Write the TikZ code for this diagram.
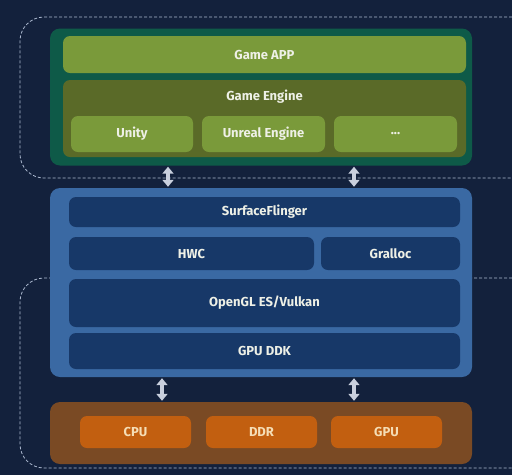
\documentclass[tikz,border=0pt]{standalone}
\usepackage{fontspec}
\setmainfont{Fira Sans}
\usetikzlibrary{arrows.meta}
\definecolor{bg}{HTML}{13213C}
\definecolor{greenout}{HTML}{0E5A48}
\definecolor{olive}{HTML}{7A9A3A}
\definecolor{oliveD}{HTML}{5A6A28}
\definecolor{blueout}{HTML}{3A69A3}
\definecolor{blueIn}{HTML}{173868}
\definecolor{orangeout}{HTML}{7A4A24}
\definecolor{orangeIn}{HTML}{C25F10}
\definecolor{txt}{HTML}{EEF0E6}
\definecolor{otxt}{HTML}{F5DDB5}
\definecolor{dashc}{HTML}{AEBBD2}
\definecolor{arrc}{HTML}{C9D0DE}
\begin{document}
\begin{tikzpicture}[x=1pt,y=-1pt,
  box/.style={rectangle,rounded corners=7pt,inner sep=0pt,draw=none,
    text=txt,font=\fontsize{13}{15}\selectfont\bfseries},
  outerbox/.style={rectangle,rounded corners=10pt,inner sep=0pt,draw=none},
  dashframe/.style={draw=dashc,line width=0.8pt,dash pattern=on 3pt off 2pt},
  dblarrow/.style={arrc,line width=3.4pt,
    {Triangle[width=11pt,length=7pt]}-{Triangle[width=11pt,length=7pt]},shorten <=1pt,shorten >=1pt}]
\fill[bg] (0,0) rectangle (512,475);
\useasboundingbox (0,0) rectangle (512,475);
% dashed frames
\draw[dashframe,rounded corners=24pt] (512,17) -- (20,17) -- (20,178) -- (512,178);
\draw[dashframe,rounded corners=24pt] (512,278) -- (20,278) -- (20,468) -- (512,468);
% green block
\node[outerbox,fill=greenout,minimum width=422pt,minimum height=137pt] (green) at (261,97) {};
\node[box,fill=olive,minimum width=403pt,minimum height=37pt] (app) at (264.5,54.5) {Game APP};
\node[box,fill=oliveD,minimum width=403pt,minimum height=77pt] (engine) at (264.5,118.5) {};
\node[box,fill=none] (enginelbl) at (264.5,97) {Game Engine};
\node[box,fill=olive,minimum width=122pt,minimum height=36pt] (unity) at (132,134) {Unity};
\node[box,fill=olive,minimum width=123pt,minimum height=36pt] (unreal) at (263.5,134) {Unreal Engine};
\node[box,fill=olive,minimum width=123pt,minimum height=36pt] (more) at (395.5,134) {...};
% blue block
\node[outerbox,fill=blueout,minimum width=422pt,minimum height=189pt] (blue) at (261,282.5) {};
\node[box,fill=blueIn,minimum width=391pt,minimum height=30pt] (sf) at (264.5,212) {SurfaceFlinger};
\node[box,fill=blueIn,minimum width=245pt,minimum height=33pt] (hwc) at (191.5,253.5) {HWC};
\node[box,fill=blueIn,minimum width=139pt,minimum height=33pt] (gralloc) at (390.5,253.5) {Gralloc};
\node[box,fill=blueIn,minimum width=391pt,minimum height=48pt] (gl) at (264.5,303) {OpenGL ES/Vulkan};
\node[box,fill=blueIn,minimum width=391pt,minimum height=36pt] (ddk) at (264.5,351) {GPU DDK};
% orange block
\node[outerbox,fill=orangeout,minimum width=422pt,minimum height=62pt] (hw) at (261,433) {};
\node[box,fill=orangeIn,text=otxt,minimum width=111pt,minimum height=32pt] (cpu) at (135.5,432) {CPU};
\node[box,fill=orangeIn,text=otxt,minimum width=111pt,minimum height=32pt] (ddr) at (261.5,432) {DDR};
\node[box,fill=orangeIn,text=otxt,minimum width=111pt,minimum height=32pt] (gpu) at (386.5,432) {GPU};
% arrows
\draw[dblarrow] (green.south -| 168,0) -- (blue.north -| 168,0);
\draw[dblarrow] (green.south -| 354,0) -- (blue.north -| 354,0);
\draw[dblarrow] (blue.south -| 162,0) -- (hw.north -| 162,0);
\draw[dblarrow] (blue.south -| 354,0) -- (hw.north -| 354,0);
\end{tikzpicture}
\end{document}
